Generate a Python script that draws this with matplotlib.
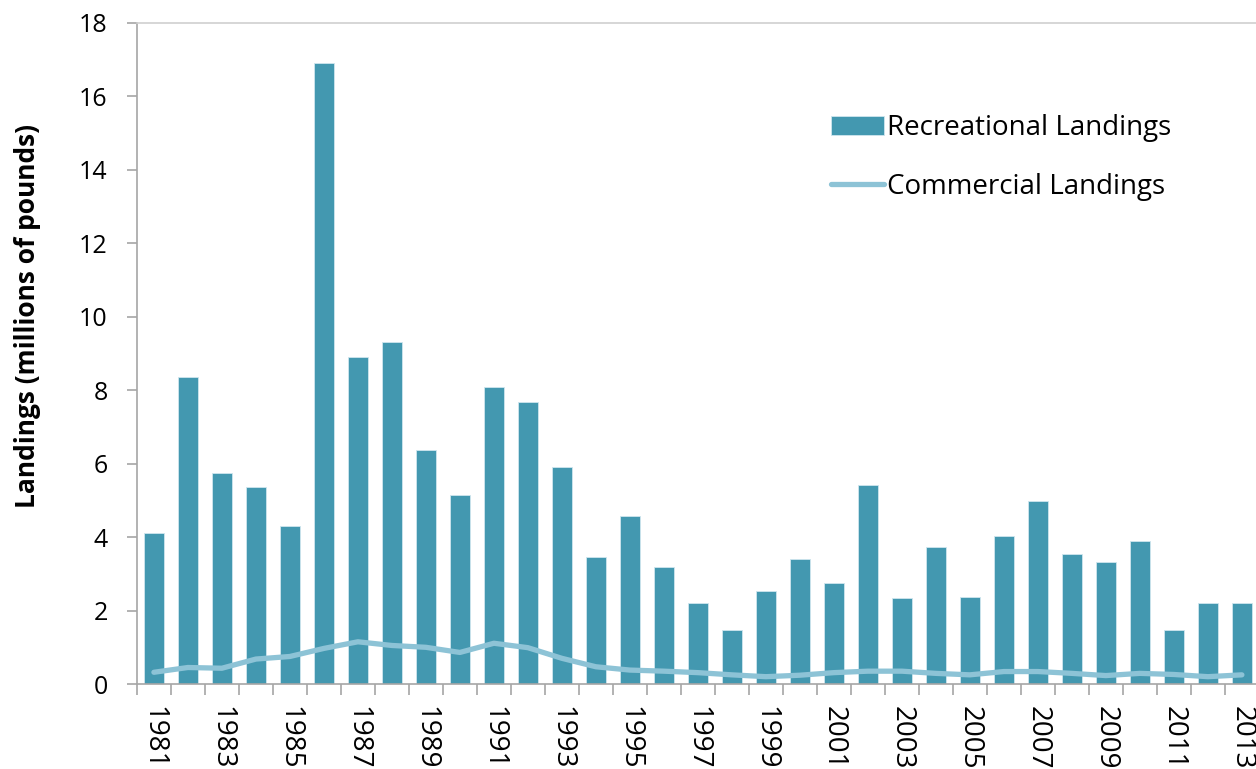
import matplotlib
matplotlib.use("Agg")
import matplotlib.pyplot as plt
import numpy as np

BAR = "#4398b0"
LINE = "#8dc3d6"
SPINE = "#a6a6a6"
TOPLINE = "#d0d0d0"
TEXT = "#000000"

years = list(range(1981, 2014))
recreational = [4.1, 8.35, 5.75, 5.37, 4.3, 16.9, 8.9, 9.3, 6.38, 5.15,
                8.1, 7.67, 5.92, 3.47, 4.57, 3.18, 2.2, 1.47, 2.52, 3.4,
                2.75, 5.43, 2.35, 3.74, 2.37, 4.02, 4.98, 3.55, 3.33, 3.9,
                1.48, 2.2, 2.2]
commercial = [0.32, 0.45, 0.43, 0.68, 0.75, 0.97, 1.15, 1.05, 1.0, 0.86,
              1.11, 0.99, 0.70, 0.47, 0.38, 0.35, 0.31, 0.25, 0.2, 0.24,
              0.31, 0.35, 0.35, 0.29, 0.25, 0.34, 0.34, 0.29, 0.23, 0.29,
              0.26, 0.2, 0.25]

plt.rcParams.update({
    "font.family": ["Open Sans", "DejaVu Sans"],
    "font.size": 18,
    "text.color": TEXT,
    "xtick.color": SPINE,
    "ytick.color": SPINE,
    "xtick.labelcolor": TEXT,
    "ytick.labelcolor": TEXT,
})

fig = plt.figure(figsize=(12.56, 7.69), dpi=100)
ax = fig.add_axes([0.109, 0.1105, 0.8933, 0.8596])

x = np.arange(len(years))
bars = ax.bar(x, recreational, width=0.58, color=BAR, edgecolor="#cfe6ee",
              linewidth=0.6, label="Recreational Landings", zorder=2)
line, = ax.plot(x, commercial, color=LINE, linewidth=3.8, solid_capstyle="round",
                solid_joinstyle="round", label="Commercial Landings", zorder=3)

ax.set_xlim(-0.5, len(years) - 0.5)
ax.set_ylim(0, 18)
ax.set_yticks(np.arange(0, 19, 2))
ax.tick_params(axis="y", length=7, width=1.2, labelsize=18, pad=14)

# ticks at category boundaries, labels every other year
ax.set_xticks(np.arange(-0.5, len(years), 1))
ax.set_xticklabels([])
ax.set_xticks(x[::2], minor=True)
ax.set_xticklabels([str(y) for y in years[::2]], minor=True)
ax.tick_params(axis="x", which="major", length=8, width=1.2)
ax.tick_params(axis="x", which="minor", length=0, pad=16)
plt.setp(ax.get_xticklabels(minor=True), rotation=-90, fontsize=20,
         va="top", ha="center")

ax.spines["right"].set_visible(False)
ax.spines["top"].set_color(TOPLINE)
ax.spines["top"].set_linewidth(1.2)
for s in ["left", "bottom"]:
    ax.spines[s].set_color(SPINE)
    ax.spines[s].set_linewidth(1.2)

ax.set_ylabel("Landings (millions of pounds)", fontsize=19, fontweight="bold")
ax.yaxis.set_label_coords(-0.0856, 0.557)

ax.legend(handles=[bars, line], loc="upper left",
          bbox_to_anchor=(831 / 1256, 1 - 114 / 769), bbox_transform=fig.transFigure,
          frameon=False, fontsize=20, handlelength=1.9, handleheight=0.68,
          handletextpad=0.1, labelspacing=1.12, borderpad=0, borderaxespad=0)

fig.savefig("out.png", dpi=100)
